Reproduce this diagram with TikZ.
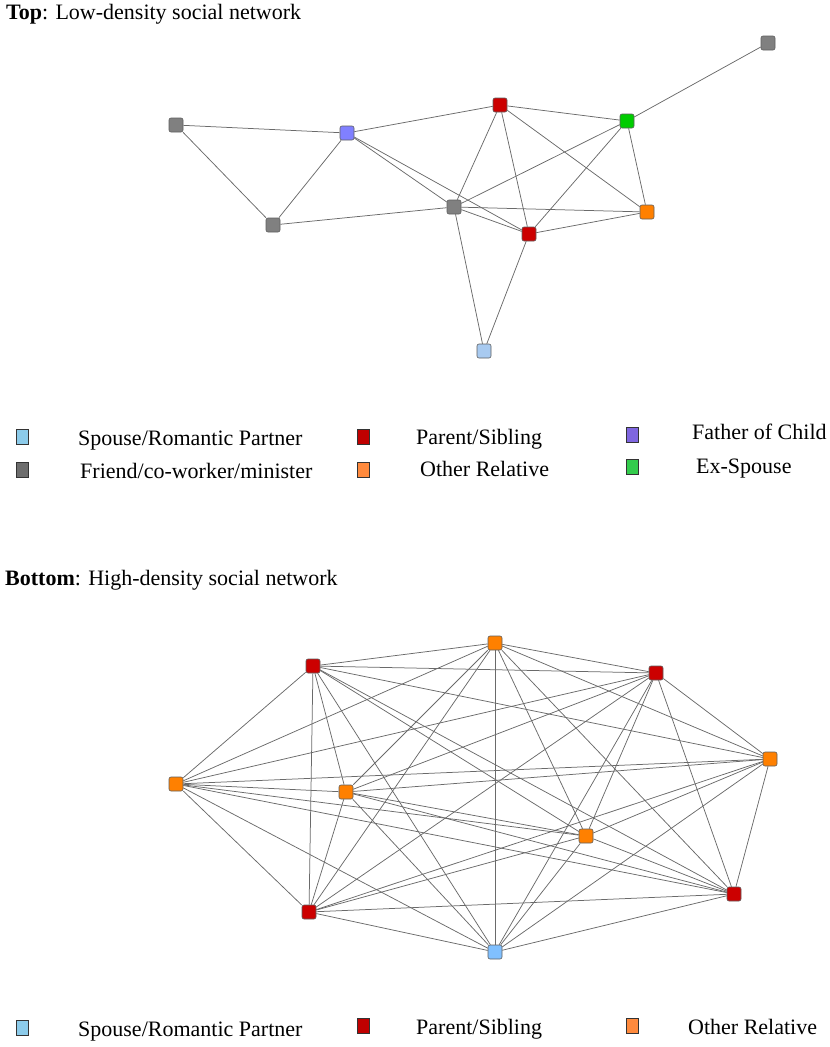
\documentclass[tikz,border=0pt]{standalone}
\usepackage{fontspec}
\setmainfont{Liberation Serif}
\definecolor{ngray}{HTML}{808080}
\definecolor{npurple}{HTML}{8080FF}
\definecolor{nred}{HTML}{CC0000}
\definecolor{ngreen}{HTML}{00CC00}
\definecolor{norange}{HTML}{FF8000}
\definecolor{nbluetop}{HTML}{A8CAF0}
\definecolor{nbluebot}{HTML}{80C0FF}
\definecolor{nborder}{HTML}{5E5E5E}
\definecolor{edgecol}{HTML}{6A6A6A}
\definecolor{lblue}{HTML}{8CCBEA}
\definecolor{lgray}{HTML}{6D6D6D}
\definecolor{lred}{HTML}{C00000}
\definecolor{lorange}{HTML}{FF8A3D}
\definecolor{lpurple}{HTML}{7F66E0}
\definecolor{lgreen}{HTML}{33CC4C}
\tikzset{
  vert/.style={rectangle, minimum size=14pt, inner sep=0pt, rounded corners=2pt, draw=nborder, line width=0.6pt, fill=#1},
  edge/.style={draw=edgecol, line width=0.75pt},
  legsq/.style={rectangle, minimum width=12pt, minimum height=15pt, inner sep=0pt, draw=black!80, line width=0.8pt, fill=#1},
  legtxt/.style={anchor=base west, inner sep=0pt, font=\fontsize{22}{26}\selectfont},
  titletxt/.style={anchor=base west, inner sep=0pt, font=\fontsize{22}{26}\selectfont}
}
\begin{document}
\begin{tikzpicture}[x=1pt, y=-1pt]
\useasboundingbox (0,0) rectangle (830,1047);
% ---------- Titles ----------
\node[titletxt] (ttop) at (6,19) {\textbf{Top}: Low-density social network};
\node[titletxt] (tbot) at (5,585) {\textbf{Bottom}: High-density social network};
% ---------- Top network ----------
\node[vert=ngray]    (t1) at (176,125) {};
\node[vert=npurple]  (p)  at (347,133) {};
\node[vert=ngray]    (t2) at (273,225) {};
\node[vert=ngray]    (g1) at (454,207) {};
\node[vert=nred]     (r1) at (500,105) {};
\node[vert=ngreen]   (gr) at (627,121) {};
\node[vert=ngray]    (fg) at (768,43) {};
\node[vert=norange]  (or) at (647,212) {};
\node[vert=nred]     (r2) at (529,234) {};
\node[vert=nbluetop] (bl) at (484,351) {};
\foreach \u/\v in {t1/p, t1/t2, t2/p, t2/g1, p/r1, p/g1, p/r2, r1/gr, r1/g1, r1/r2, r1/or,
                   gr/fg, gr/g1, gr/r2, gr/or, g1/or, g1/r2, r2/or, g1/bl, r2/bl}
  \draw[edge] (\u) -- (\v);
% ---------- Top legend ----------
\node[legsq=lblue]   (ls1) at (22,437) {};
\node[legsq=lgray]   (ls2) at (22,470) {};
\node[legsq=lred]    (ls3) at (363,437) {};
\node[legsq=lorange] (ls4) at (363,470) {};
\node[legsq=lpurple] (ls5) at (632,435) {};
\node[legsq=lgreen]  (ls6) at (632,467) {};
\node[legtxt] (lt1) at (78,445) {Spouse/Romantic Partner};
\node[legtxt] (lt2) at (80,478) {Friend/co-worker/minister};
\node[legtxt] (lt3) at (416,444) {Parent/Sibling};
\node[legtxt] (lt4) at (420,476) {Other Relative};
\node[legtxt] (lt5) at (692,439) {Father of Child};
\node[legtxt] (lt6) at (696,473) {Ex-Spouse};
% ---------- Bottom network ----------
\node[vert=nred]     (A) at (313,666) {};
\node[vert=norange]  (B) at (495,643) {};
\node[vert=nred]     (C) at (656,673) {};
\node[vert=norange]  (D) at (176,784) {};
\node[vert=norange]  (E) at (346,792) {};
\node[vert=norange]  (F) at (770,759) {};
\node[vert=norange]  (G) at (586,836) {};
\node[vert=nred]     (H) at (309,912) {};
\node[vert=nred]     (I) at (734,894) {};
\node[vert=nbluebot] (J) at (495,952) {};
\foreach \u/\vs in {A/{B,C,D,E,F,G,H,I,J}, B/{C,D,E,F,G,H,I,J}, C/{D,E,F,G,H,I,J},
                    D/{E,F,G,H,I,J}, E/{F,G,H,I,J}, F/{G,H,I,J}, G/{H,I,J}, H/{I,J}, I/{J}}
  \foreach \v in \vs
    \draw[edge] (\u) -- (\v);
% ---------- Bottom legend ----------
\node[legsq=lblue]   (bs1) at (22,1028) {};
\node[legsq=lred]    (bs2) at (363,1026) {};
\node[legsq=lorange] (bs3) at (632,1026) {};
\node[legtxt] (bt1) at (78,1036) {Spouse/Romantic Partner};
\node[legtxt] (bt2) at (416,1034) {Parent/Sibling};
\node[legtxt] (bt3) at (688,1034) {Other Relative};
\end{tikzpicture}
\end{document}
